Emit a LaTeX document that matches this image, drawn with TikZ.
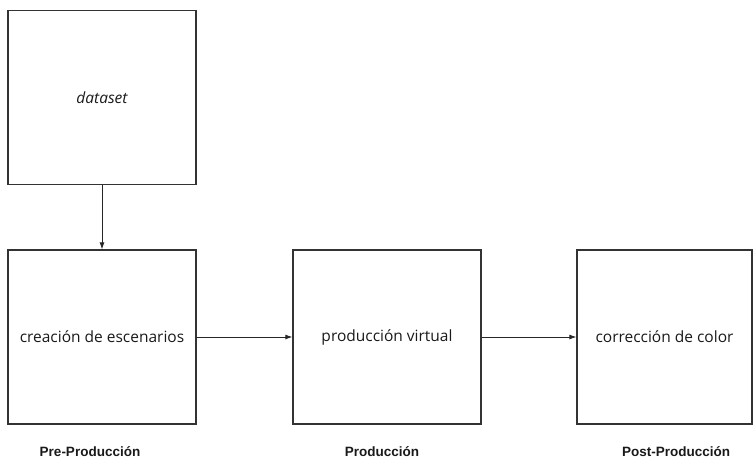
\documentclass[tikz,border=0pt]{standalone}
\usepackage{fontspec}
\setmainfont{Open Sans}
\newfontfamily\labfont{Liberation Sans}
\usetikzlibrary{arrows.meta}
\begin{document}
\begin{tikzpicture}[x=1pt,y=-1pt,
  box/.style={draw=black!80,line width=1.3pt,minimum width=188pt,minimum height=174pt,inner sep=0pt,text=black!90,font=\fontsize{15.5}{18}\selectfont},
  lab/.style={text=black!90,font=\labfont\bfseries\fontsize{13.5}{16}\selectfont},
  conn/.style={draw=black!85,line width=0.8pt,-{Latex[length=7pt,width=5pt]}}]
\useasboundingbox (0,0) rectangle (755,464);
\node[box] (ds) at (102,97.5) {\itshape dataset};
\node[box] (cr) at (102,337) {creación de escenarios};
\node[box] (pv) at (387,337) {producción virtual};
\node[box,minimum width=175pt] (cc) at (664.5,337) {corrección de color};
\node[lab] (l1) at (90,452) {Pre-Producción};
\node[lab] (l2) at (382,452) {Producción};
\node[lab] (l3) at (676,452) {Post-Producción};
\draw[conn] (ds) -- (cr);
\draw[conn] (cr) -- (pv);
\draw[conn] (pv) -- (cc);
\end{tikzpicture}
\end{document}
